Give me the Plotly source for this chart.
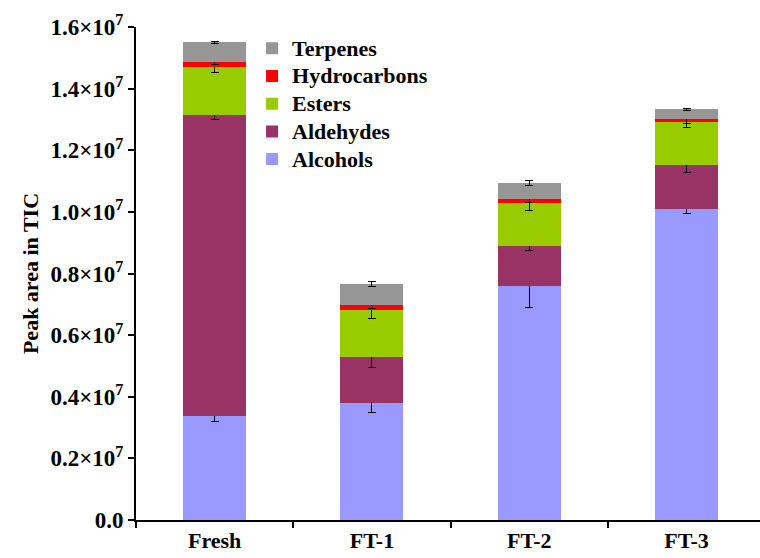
import plotly.graph_objects as go

categories = ["Fresh", "FT-1", "FT-2", "FT-3"]

alcohols = [3.38e6, 3.80e6, 7.59e6, 10.08e6]
aldehydes = [9.77e6, 1.48e6, 1.31e6, 1.43e6]
esters = [1.56e6, 1.55e6, 1.38e6, 1.42e6]
hydrocarbons = [0.15e6, 0.15e6, 0.15e6, 0.07e6]
terpenes = [0.65e6, 0.69e6, 0.52e6, 0.33e6]

alcohols_err = [0.18e6, 0.31e6, 0.68e6, 0.13e6]
aldehydes_err = [0.16e6, 0.33e6, 0.14e6, 0.24e6]
esters_err = [0.19e6, 0.28e6, 0.25e6, 0.18e6]
hydrocarbons_err = [0.07e6, 0.11e6, 0.14e6, 0.12e6]
terpenes_err = [0.03e6, 0.08e6, 0.08e6, 0.04e6]

ytick_vals = [0, 2e6, 4e6, 6e6, 8e6, 10e6, 12e6, 14e6, 16e6]
ytick_text = ["0.0", "0.2×10<sup>7</sup>", "0.4×10<sup>7</sup>", "0.6×10<sup>7</sup>",
              "0.8×10<sup>7</sup>", "1.0×10<sup>7</sup>", "1.2×10<sup>7</sup>",
              "1.4×10<sup>7</sup>", "1.6×10<sup>7</sup>"]

series = [
    ("Alcohols", alcohols, alcohols_err, "#9999FF"),
    ("Aldehydes", aldehydes, aldehydes_err, "#993366"),
    ("Esters", esters, esters_err, "#99CC00"),
    ("Hydrocarbons", hydrocarbons, hydrocarbons_err, "#FF0000"),
    ("Terpenes", terpenes, terpenes_err, "#969696"),
]

FONT = "Times New Roman, Liberation Serif, serif"

fig = go.Figure()
for name, vals, errs, color in series:
    fig.add_trace(go.Bar(
        name='<span style="font-size:22px">' + name + '</span>',
        x=categories, y=vals,
        marker=dict(color=color, line=dict(width=0)),
        error_y=dict(type="data", array=errs, visible=True,
                     color="black", thickness=1, width=4),
        width=0.4,
    ))

fig.update_layout(
    barmode="stack",
    width=760, height=558,
    margin=dict(l=136, r=0, t=27, b=38),
    paper_bgcolor="white", plot_bgcolor="white",
    font=dict(family=FONT, size=22, color="black", weight="bold"),
    showlegend=True,
    legend=dict(
        x=0.186, y=0.995, xanchor="left", yanchor="top",
        traceorder="reversed",
        font=dict(family=FONT, size=19, color="black", weight="bold"),
        bgcolor="rgba(0,0,0,0)", itemwidth=30,
    ),
    xaxis=dict(
        range=[-0.5, 3.467], showline=True, linecolor="black", linewidth=2,
        ticks="outside", tickson="boundaries", ticklen=6, tickwidth=2,
        tickcolor="black", showgrid=False, zeroline=False,
        tickfont=dict(family=FONT, size=22, weight="bold"),
    ),
    yaxis=dict(
        range=[0, 1.6e7], tickvals=ytick_vals, ticktext=ytick_text,
        showline=True, linecolor="black", linewidth=2,
        ticks="outside", ticklen=6, tickwidth=2, tickcolor="black",
        showgrid=False, zeroline=False,
        tickfont=dict(family=FONT, size=23, weight="bold"),
        title=dict(text="Peak area in TIC", standoff=6,
                   font=dict(family=FONT, size=22, weight="bold")),
    ),
)

fig.write_html("out.html")
